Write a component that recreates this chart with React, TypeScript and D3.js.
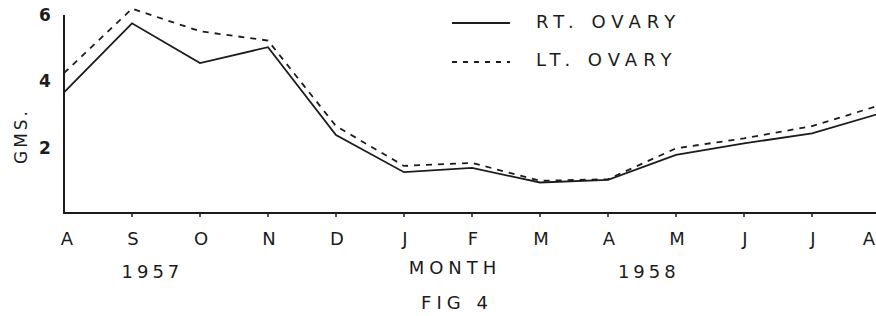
import React from "react";
import * as d3 from "d3";

const months = ["A", "S", "O", "N", "D", "J", "F", "M", "A", "M", "J", "J", "A"];
const rtOvary = [3.64, 5.72, 4.52, 5.0, 2.35, 1.23, 1.36, 0.92, 1.0, 1.75, 2.1, 2.4, 3.0];
const ltOvary = [4.22, 6.16, 5.48, 5.2, 2.62, 1.42, 1.51, 0.97, 1.02, 1.95, 2.25, 2.62, 3.25];
const yTicks = [2, 4, 6];
const yearLabels = [
  { text: "1957", at: 1.3 },
  { text: "1958", at: 8.6 },
];

const W = 876;
const H = 316;
const FONT = "'DejaVu Sans', 'Noto Sans', sans-serif";
const INK = "#1c1c1c";

export default function App() {
  React.useEffect(() => {
    document.body.style.margin = "0";
  }, []);
  const x = d3.scaleLinear().domain([0, 12]).range([64, 880]);
  const y = d3.scaleLinear().domain([0, 6]).range([213, 14]);
  const line = d3
    .line<number>()
    .x((_, i) => x(i))
    .y((d) => y(d));
  const x0 = x(0);
  const yBase = y(0);
  const last = months.length - 1;

  return (
    <svg
      width={W}
      height={H}
      style={{ position: "absolute", left: 0, top: 0, background: "#fff" }}
      fontFamily={FONT}
    >
      {/* axes */}
      <path
        d={`M${x0},${y(6) + 1}V${yBase}H${W}`}
        fill="none"
        stroke={INK}
        strokeWidth={2}
      />
      {months.map((m, i) =>
        i === 0 ? null : (
          <line key={"t" + i} x1={x(i)} x2={x(i)} y1={yBase} y2={yBase + 4} stroke={INK} strokeWidth={1.5} />
        )
      )}
      {/* y tick labels */}
      {yTicks.map((t) => (
        <text
          key={"y" + t}
          x={x0 - 19}
          y={y(t) + 2}
          textAnchor="middle"
          dominantBaseline="middle"
          fontSize={17}
          fontWeight="bold"
          fill={INK}
        >
          {t}
        </text>
      ))}
      <text
        transform={`translate(22,136) rotate(-90)`}
        textAnchor="middle"
        dominantBaseline="middle"
        fontSize={17}
        letterSpacing={3}
        fill={INK}
      >
        GMS.
      </text>
      {/* month labels */}
      {months.map((m, i) => (
        <text
          key={"m" + i}
          x={i === last ? W - 7 : x(i) + (i === 0 ? 3 : 1)}
          y={240}
          textAnchor="middle"
          dominantBaseline="middle"
          fontSize={18}
          fill={INK}
        >
          {m}
        </text>
      ))}
      {yearLabels.map((yl) => (
        <text
          key={yl.text}
          x={x(yl.at)}
          y={273}
          textAnchor="middle"
          dominantBaseline="middle"
          fontSize={18}
          letterSpacing={4}
          fill={INK}
        >
          {yl.text}
        </text>
      ))}
      <text x={455} y={269} textAnchor="middle" dominantBaseline="middle" fontSize={18} letterSpacing={5} fill={INK}>
        MONTH
      </text>
      <text x={457} y={304} textAnchor="middle" dominantBaseline="middle" fontSize={18} letterSpacing={5} fill={INK}>
        FIG 4
      </text>
      {/* series */}
      <path d={line(ltOvary) || ""} fill="none" stroke={INK} strokeWidth={1.8} strokeDasharray="6,6" />
      <path d={line(rtOvary) || ""} fill="none" stroke={INK} strokeWidth={1.8} />
      {/* legend */}
      <line x1={452} x2={510} y1={23} y2={23} stroke={INK} strokeWidth={1.8} />
      <line x1={452} x2={510} y1={62} y2={62} stroke={INK} strokeWidth={1.8} strokeDasharray="5,6" />
      <text x={536} y={23} dominantBaseline="middle" fontSize={18} letterSpacing={6} fill={INK}>
        RT. OVARY
      </text>
      <text x={536} y={61} dominantBaseline="middle" fontSize={18} letterSpacing={6} fill={INK}>
        LT. OVARY
      </text>
    </svg>
  );
}
